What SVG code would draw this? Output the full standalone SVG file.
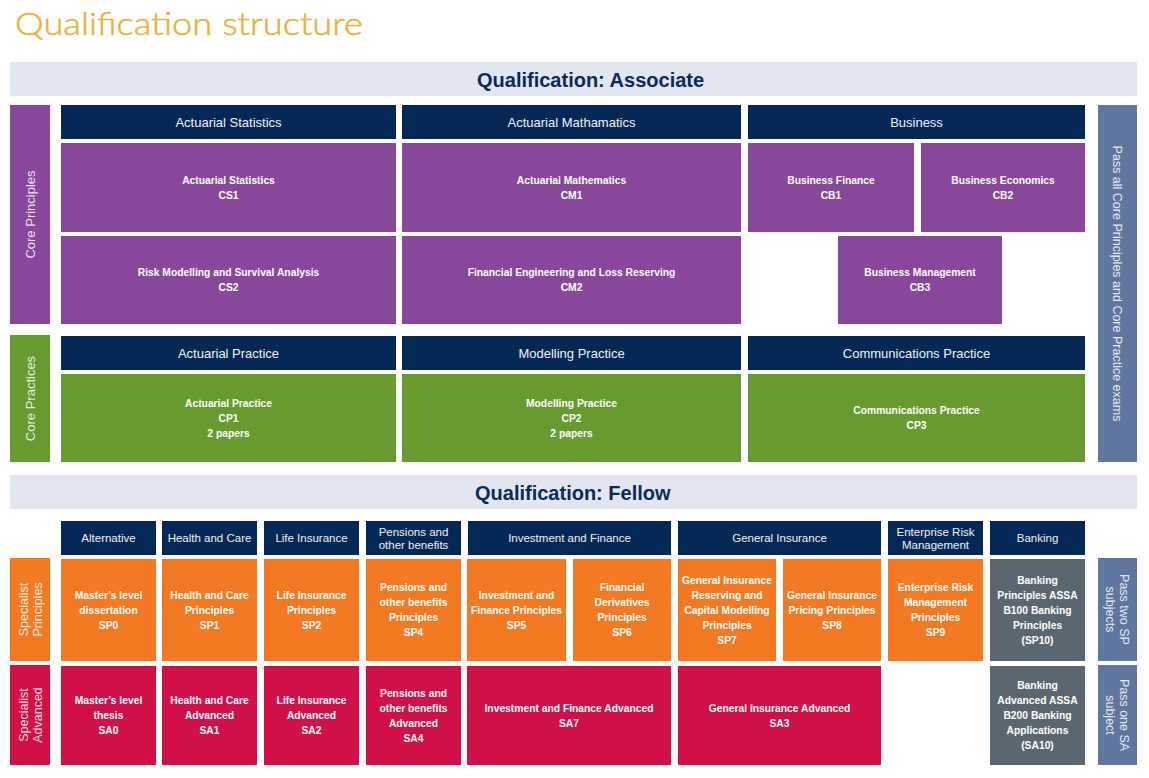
<svg xmlns="http://www.w3.org/2000/svg" width="1149" height="778" viewBox="0 0 1149 778">
<style>
.navy{fill:#032856}
.pur{fill:#87479A}
.grn{fill:#679A2F}
.org{fill:#F37A23}
.red{fill:#D11047}
.gry{fill:#5B6770}
.slt{fill:#5F779F}
.ban{fill:#E1E6F0}
.hd{font-family:"Liberation Sans",Arial,sans-serif;font-size:13px;fill:#F2F2F2;text-anchor:middle}
.fh{font-family:"Liberation Sans",Arial,sans-serif;font-size:11.5px;fill:#F2F2F2;text-anchor:middle}
.bx{font-family:"Liberation Sans",Arial,sans-serif;font-size:10.3px;font-weight:bold;fill:#FFFFFF;text-anchor:middle}
.sd{font-family:"Liberation Sans",Arial,sans-serif;font-size:13px;fill:#FFFFFF;fill-opacity:0.85;text-anchor:middle}
.sd2{font-family:"Liberation Sans",Arial,sans-serif;font-size:12.5px;fill:#FFFFFF;fill-opacity:0.85;text-anchor:middle}
.bt{font-family:"Liberation Sans",Arial,sans-serif;font-size:20px;font-weight:bold;fill:#0B2A57}
</style>
<rect width="1149" height="778" fill="#FFFFFF"/>
<text x="15" y="35" font-family="Lato,'Open Sans',sans-serif" font-weight="300" font-size="32" fill="#E4B43C" stroke="#E4B43C" stroke-width="0.5" textLength="348" lengthAdjust="spacingAndGlyphs">Qualification structure</text>

<g id="banner-associate"><rect class="ban" x="10" y="62" width="1127" height="34"/><text class="bt" x="477" y="87">Qualification: Associate</text></g>

<g id="side-core-principles"><rect class="pur" x="10" y="105" width="40" height="219"/><text class="sd" transform="translate(30,214.5) rotate(-90)" x="0" y="4.5">Core Principles</text></g>
<g id="side-core-practices"><rect class="grn" x="10" y="335" width="40" height="127"/><text class="sd" transform="translate(30,398.5) rotate(-90)" x="0" y="4.5">Core Practices</text></g>
<g id="side-pass-all"><rect class="slt" x="1098" y="105" width="39" height="357"/><text class="sd2" transform="translate(1117.5,283.5) rotate(90)" x="0" y="4.5">Pass all Core Principles and Core Practice exams</text></g>

<g id="hdr-actuarial-statistics"><rect class="navy" x="61" y="105" width="335" height="34"/><text class="hd" x="228.5" y="126.6">Actuarial Statistics</text></g>
<g id="hdr-actuarial-mathematics"><rect class="navy" x="402" y="105" width="339" height="34"/><text class="hd" x="571.5" y="126.6">Actuarial Mathamatics</text></g>
<g id="hdr-business"><rect class="navy" x="748" y="105" width="337" height="34"/><text class="hd" x="916.5" y="126.6">Business</text></g>

<g id="CS1"><rect class="pur" x="61" y="143" width="335" height="89"/><text class="bx"><tspan x="228.5" y="183.7">Actuarial Statistics</tspan><tspan x="228.5" y="198.7">CS1</tspan></text></g>
<g id="CM1"><rect class="pur" x="402" y="143" width="339" height="89"/><text class="bx"><tspan x="571.5" y="183.7">Actuarial Mathematics</tspan><tspan x="571.5" y="198.7">CM1</tspan></text></g>
<g id="CB1"><rect class="pur" x="748" y="143" width="166" height="89"/><text class="bx"><tspan x="831" y="183.7">Business Finance</tspan><tspan x="831" y="198.7">CB1</tspan></text></g>
<g id="CB2"><rect class="pur" x="921" y="143" width="164" height="89"/><text class="bx"><tspan x="1003" y="183.7">Business Economics</tspan><tspan x="1003" y="198.7">CB2</tspan></text></g>
<g id="CS2"><rect class="pur" x="61" y="236" width="335" height="88"/><text class="bx"><tspan x="228.5" y="276.2">Risk Modelling and Survival Analysis</tspan><tspan x="228.5" y="291.2">CS2</tspan></text></g>
<g id="CM2"><rect class="pur" x="402" y="236" width="339" height="88"/><text class="bx"><tspan x="571.5" y="276.2">Financial Engineering and Loss Reserving</tspan><tspan x="571.5" y="291.2">CM2</tspan></text></g>
<g id="CB3"><rect class="pur" x="838" y="236" width="164" height="88"/><text class="bx"><tspan x="920" y="276.2">Business Management</tspan><tspan x="920" y="291.2">CB3</tspan></text></g>

<g id="hdr-actuarial-practice"><rect class="navy" x="61" y="336" width="335" height="34"/><text class="hd" x="228.5" y="357.6">Actuarial Practice</text></g>
<g id="hdr-modelling-practice"><rect class="navy" x="402" y="336" width="339" height="34"/><text class="hd" x="571.5" y="357.6">Modelling Practice</text></g>
<g id="hdr-communications-practice"><rect class="navy" x="748" y="336" width="337" height="34"/><text class="hd" x="916.5" y="357.6">Communications Practice</text></g>

<g id="CP1"><rect class="grn" x="61" y="374" width="335" height="88"/><text class="bx"><tspan x="228.5" y="406.7">Actuarial Practice</tspan><tspan x="228.5" y="421.7">CP1</tspan><tspan x="228.5" y="436.7">2 papers</tspan></text></g>
<g id="CP2"><rect class="grn" x="402" y="374" width="339" height="88"/><text class="bx"><tspan x="571.5" y="406.7">Modelling Practice</tspan><tspan x="571.5" y="421.7">CP2</tspan><tspan x="571.5" y="436.7">2 papers</tspan></text></g>
<g id="CP3"><rect class="grn" x="748" y="374" width="337" height="88"/><text class="bx"><tspan x="916.5" y="414.2">Communications Practice</tspan><tspan x="916.5" y="429.2">CP3</tspan></text></g>

<g id="banner-fellow"><rect class="ban" x="10" y="475" width="1127" height="34"/><text class="bt" x="475" y="500">Qualification: Fellow</text></g>

<g id="side-specialist-principles"><rect class="org" x="10" y="558" width="40" height="103"/><text class="sd2" transform="translate(30,609.5) rotate(-90)"><tspan x="0" y="-2.5">Specialist</tspan><tspan x="0" y="11.5">Principles</tspan></text></g>
<g id="side-specialist-advanced"><rect class="red" x="10" y="665" width="40" height="100"/><text class="sd2" transform="translate(30,715) rotate(-90)"><tspan x="0" y="-2.5">Specialist</tspan><tspan x="0" y="11.5">Advanced</tspan></text></g>
<g id="side-pass-two-sp"><rect class="slt" x="1098" y="558" width="39" height="103"/><text class="sd2" transform="translate(1117.5,609.5) rotate(90)"><tspan x="0" y="-2.5">Pass two SP</tspan><tspan x="0" y="11.5">subjects</tspan></text></g>
<g id="side-pass-one-sa"><rect class="slt" x="1098" y="665" width="39" height="100"/><text class="sd2" transform="translate(1117.5,715) rotate(90)"><tspan x="0" y="-2.5">Pass one SA</tspan><tspan x="0" y="11.5">subject</tspan></text></g>

<g id="hdr-alternative"><rect class="navy" x="61" y="521" width="95" height="34"/><text class="fh" x="108.5" y="542">Alternative</text></g>
<g id="hdr-health-care"><rect class="navy" x="162" y="521" width="95" height="34"/><text class="fh" x="209.5" y="542">Health and Care</text></g>
<g id="hdr-life-insurance"><rect class="navy" x="264" y="521" width="95" height="34"/><text class="fh" x="311.5" y="542">Life Insurance</text></g>
<g id="hdr-pensions"><rect class="navy" x="366" y="521" width="95" height="34"/><text class="fh"><tspan x="413.5" y="536">Pensions and</tspan><tspan x="413.5" y="549">other benefits</tspan></text></g>
<g id="hdr-investment-finance"><rect class="navy" x="468" y="521" width="203" height="34"/><text class="fh" x="569.5" y="542">Investment and Finance</text></g>
<g id="hdr-general-insurance"><rect class="navy" x="678" y="521" width="203" height="34"/><text class="fh" x="779.5" y="542">General Insurance</text></g>
<g id="hdr-erm"><rect class="navy" x="888" y="521" width="95" height="34"/><text class="fh"><tspan x="935.5" y="536">Enterprise Risk</tspan><tspan x="935.5" y="549">Management</tspan></text></g>
<g id="hdr-banking"><rect class="navy" x="990" y="521" width="95" height="34"/><text class="fh" x="1037.5" y="542">Banking</text></g>

<g id="SP0"><rect class="org" x="61" y="559" width="95" height="102"/><text class="bx"><tspan x="108.5" y="598.7">Master’s level</tspan><tspan x="108.5" y="613.7">dissertation</tspan><tspan x="108.5" y="628.7">SP0</tspan></text></g>
<g id="SP1"><rect class="org" x="162" y="559" width="95" height="102"/><text class="bx"><tspan x="209.5" y="598.7">Health and Care</tspan><tspan x="209.5" y="613.7">Principles</tspan><tspan x="209.5" y="628.7">SP1</tspan></text></g>
<g id="SP2"><rect class="org" x="264" y="559" width="95" height="102"/><text class="bx"><tspan x="311.5" y="598.7">Life Insurance</tspan><tspan x="311.5" y="613.7">Principles</tspan><tspan x="311.5" y="628.7">SP2</tspan></text></g>
<g id="SP4"><rect class="org" x="366" y="559" width="95" height="102"/><text class="bx"><tspan x="413.5" y="591.2">Pensions and</tspan><tspan x="413.5" y="606.2">other benefits</tspan><tspan x="413.5" y="621.2">Principles</tspan><tspan x="413.5" y="636.2">SP4</tspan></text></g>
<g id="SP5"><rect class="org" x="467" y="559" width="99" height="102"/><text class="bx"><tspan x="516.5" y="598.7">Investment and</tspan><tspan x="516.5" y="613.7">Finance Principles</tspan><tspan x="516.5" y="628.7">SP5</tspan></text></g>
<g id="SP6"><rect class="org" x="573" y="559" width="98" height="102"/><text class="bx"><tspan x="622" y="591.2">Financial</tspan><tspan x="622" y="606.2">Derivatives</tspan><tspan x="622" y="621.2">Principles</tspan><tspan x="622" y="636.2">SP6</tspan></text></g>
<g id="SP7"><rect class="org" x="678" y="559" width="98" height="102"/><text class="bx"><tspan x="727" y="583.7">General Insurance</tspan><tspan x="727" y="598.7">Reserving and</tspan><tspan x="727" y="613.7">Capital Modelling</tspan><tspan x="727" y="628.7">Principles</tspan><tspan x="727" y="643.7">SP7</tspan></text></g>
<g id="SP8"><rect class="org" x="783" y="559" width="98" height="102"/><text class="bx"><tspan x="832" y="598.7">General Insurance</tspan><tspan x="832" y="613.7">Pricing Principles</tspan><tspan x="832" y="628.7">SP8</tspan></text></g>
<g id="SP9"><rect class="org" x="888" y="559" width="95" height="102"/><text class="bx"><tspan x="935.5" y="591.2">Enterprise Risk</tspan><tspan x="935.5" y="606.2">Management</tspan><tspan x="935.5" y="621.2">Principles</tspan><tspan x="935.5" y="636.2">SP9</tspan></text></g>
<g id="SP10"><rect class="gry" x="990" y="559" width="95" height="102"/><text class="bx"><tspan x="1037.5" y="583.7">Banking</tspan><tspan x="1037.5" y="598.7">Principles ASSA</tspan><tspan x="1037.5" y="613.7">B100 Banking</tspan><tspan x="1037.5" y="628.7">Principles</tspan><tspan x="1037.5" y="643.7">(SP10)</tspan></text></g>

<g id="SA0"><rect class="red" x="61" y="666" width="95" height="99"/><text class="bx"><tspan x="108.5" y="704.2">Master’s level</tspan><tspan x="108.5" y="719.2">thesis</tspan><tspan x="108.5" y="734.2">SA0</tspan></text></g>
<g id="SA1"><rect class="red" x="162" y="666" width="95" height="99"/><text class="bx"><tspan x="209.5" y="704.2">Health and Care</tspan><tspan x="209.5" y="719.2">Advanced</tspan><tspan x="209.5" y="734.2">SA1</tspan></text></g>
<g id="SA2"><rect class="red" x="264" y="666" width="95" height="99"/><text class="bx"><tspan x="311.5" y="704.2">Life Insurance</tspan><tspan x="311.5" y="719.2">Advanced</tspan><tspan x="311.5" y="734.2">SA2</tspan></text></g>
<g id="SA4"><rect class="red" x="366" y="666" width="95" height="99"/><text class="bx"><tspan x="413.5" y="696.7">Pensions and</tspan><tspan x="413.5" y="711.7">other benefits</tspan><tspan x="413.5" y="726.7">Advanced</tspan><tspan x="413.5" y="741.7">SA4</tspan></text></g>
<g id="SA7"><rect class="red" x="467" y="666" width="204" height="99"/><text class="bx"><tspan x="569" y="711.7">Investment and Finance Advanced</tspan><tspan x="569" y="726.7">SA7</tspan></text></g>
<g id="SA3"><rect class="red" x="678" y="666" width="203" height="99"/><text class="bx"><tspan x="779.5" y="711.7">General Insurance Advanced</tspan><tspan x="779.5" y="726.7">SA3</tspan></text></g>
<g id="SA10"><rect class="gry" x="990" y="666" width="95" height="99"/><text class="bx"><tspan x="1037.5" y="689.2">Banking</tspan><tspan x="1037.5" y="704.2">Advanced ASSA</tspan><tspan x="1037.5" y="719.2">B200 Banking</tspan><tspan x="1037.5" y="734.2">Applications</tspan><tspan x="1037.5" y="749.2">(SA10)</tspan></text></g>

<g id="connectors"></g>
</svg>
